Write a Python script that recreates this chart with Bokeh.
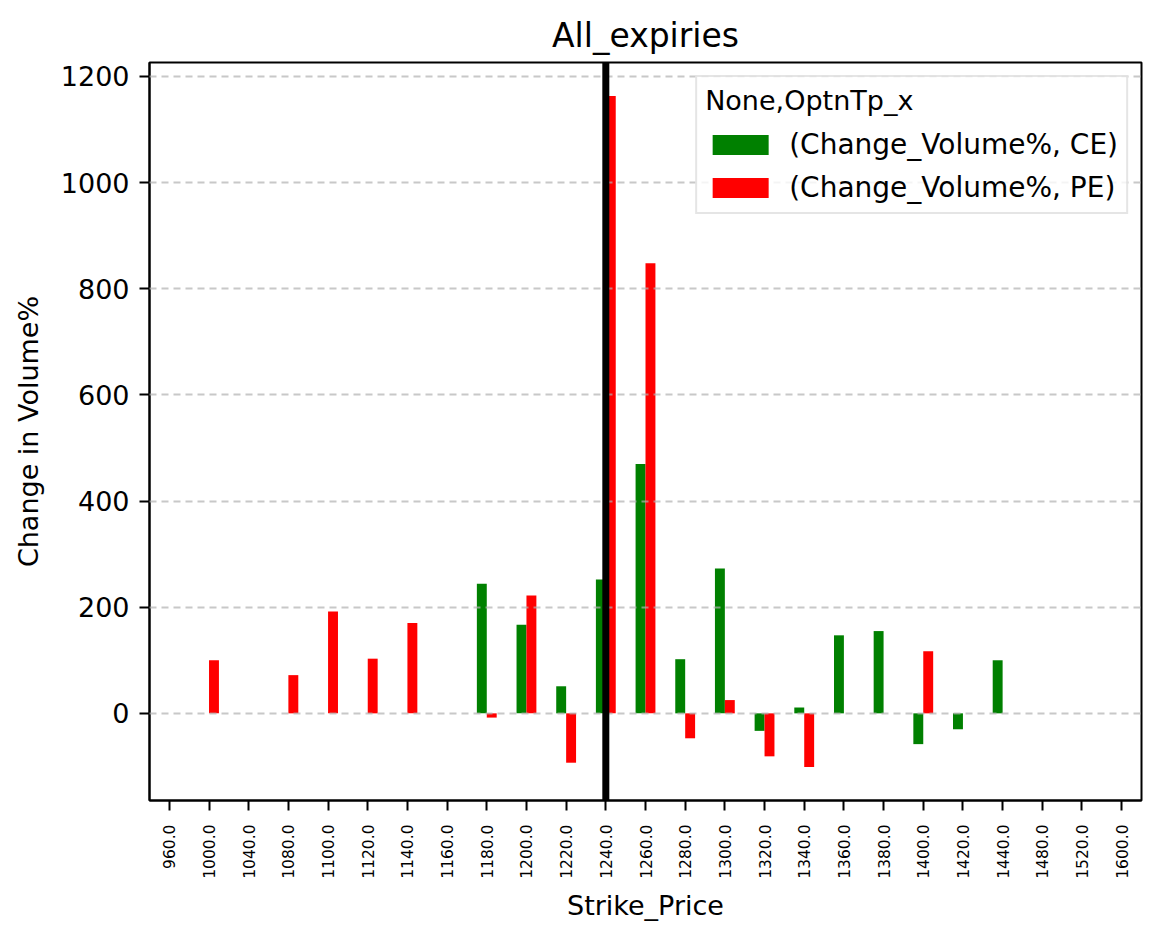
import math

from bokeh.embed import file_html
from bokeh.models import ColumnDataSource, FactorRange, Legend, LegendItem, Range1d, SingleIntervalTicker
from bokeh.plotting import figure
from bokeh.resources import INLINE
from bokeh.transform import dodge

nan = float("nan")

strikes = ["960.0", "1000.0", "1040.0", "1080.0", "1100.0", "1120.0", "1140.0", "1160.0", "1180.0",
           "1200.0", "1220.0", "1240.0", "1260.0", "1280.0", "1300.0", "1320.0", "1340.0", "1360.0",
           "1380.0", "1400.0", "1420.0", "1440.0", "1480.0", "1520.0", "1600.0"]
ce_change = [nan, nan, nan, nan, nan, nan, nan, nan, 244, 167, 51, 252, 470, 102, 273, -33, 11, 147,
             155, -58, -30, 100, nan, nan, nan]
pe_change = [nan, 100, nan, 72, 192, 103, 170, nan, -8, 222, -93, 1163, 848, -47, 25, -81, -101, nan,
             nan, 117, nan, nan, nan, nan, nan]
spot_strike = "1240.0"

FONT = "DejaVu Sans"

source = ColumnDataSource(data=dict(strike=strikes, ce=ce_change, pe=pe_change))

# pandas-like autoscale: 5% margin on each side of the data
values = [v for v in ce_change + pe_change if not math.isnan(v)]
lo, hi = min(values), max(values)
pad = 0.05 * (hi - lo)
y_lo, y_hi = lo - pad, hi + pad

p = figure(x_range=FactorRange(*strikes), y_range=Range1d(y_lo, y_hi),
           width=1145, height=923, output_backend="svg", toolbar_location=None,
           title="All_expiries", x_axis_label="Strike_Price", y_axis_label="Change in Volume%",
           min_border_left=149, min_border_right=4, min_border_top=62, min_border_bottom=123)

ce_bars = p.vbar(x=dodge("strike", -0.125, range=p.x_range), top="ce", width=0.25, source=source,
                 fill_color="green", line_color=None)
pe_bars = p.vbar(x=dodge("strike", 0.125, range=p.x_range), top="pe", width=0.25, source=source,
                 fill_color="red", line_color=None)

# vertical marker at the current strike, across the whole plot height
spot_line = p.segment(x0=[spot_strike], x1=[spot_strike], y0=[y_lo], y1=[y_hi],
                      line_color="black", line_width=7)
spot_line.level = "overlay"

legend = Legend(items=[LegendItem(label="(Change_Volume%, CE)", renderers=[ce_bars]),
                       LegendItem(label="(Change_Volume%, PE)", renderers=[pe_bars])],
                title="None,OptnTp_x", location="top_right")
legend.title_text_font = FONT
legend.title_text_font_size = "27px"
legend.title_text_font_style = "normal"
legend.title_text_color = "black"
legend.title_standoff = 12
legend.label_text_font = FONT
legend.label_text_font_size = "28px"
legend.label_text_color = "black"
legend.glyph_width = 70
legend.glyph_height = 25
legend.label_standoff = 14
legend.spacing = 10
legend.padding = 8
legend.margin = 13
legend.border_line_color = "#cccccc"
legend.border_line_width = 2
legend.background_fill_alpha = 0.8
p.add_layout(legend)

p.title.text_font = FONT
p.title.text_font_size = "33px"
p.title.text_font_style = "normal"
p.title.text_color = "black"
p.title.align = "center"
p.title.standoff = 15

for ax in (p.xaxis[0], p.yaxis[0]):
    ax.axis_line_width = 2
    ax.major_tick_line_width = 2
    ax.major_tick_out = 10
    ax.major_tick_in = 0
    ax.minor_tick_out = 0
    ax.minor_tick_in = 0
    ax.axis_label_text_font = FONT
    ax.axis_label_text_font_size = "27px"
    ax.axis_label_text_font_style = "normal"
    ax.axis_label_text_color = "black"
    ax.major_label_text_font = FONT
    ax.major_label_text_color = "black"

p.yaxis.ticker = SingleIntervalTicker(interval=200, num_minor_ticks=0)
p.yaxis.major_label_text_font_size = "27px"
p.yaxis.major_label_standoff = 10
p.yaxis.axis_label_standoff = 14

p.xaxis.major_label_text_font_size = "15.5px"
p.xaxis.major_label_orientation = math.pi / 2
p.xaxis.major_label_standoff = 14
p.xaxis.axis_label_standoff = 8

p.xgrid.visible = False
p.ygrid.grid_line_color = "#b0b0b0"
p.ygrid.grid_line_alpha = 0.7
p.ygrid.grid_line_width = 2
p.ygrid.grid_line_dash = "7 5"
p.ygrid.level = "annotation"

p.outline_line_color = "black"
p.outline_line_width = 2
p.background_fill_color = "white"

open("out.html", "w").write(file_html(p, INLINE))
